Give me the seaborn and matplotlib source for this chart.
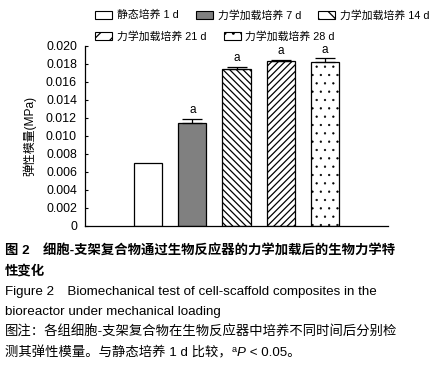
import matplotlib
matplotlib.use("Agg")
import matplotlib.pyplot as plt
import seaborn as sns
import pandas as pd
from matplotlib.patches import Patch

# --- Data ---
groups = ["静态培养 1 d", "力学加载培养 7 d", "力学加载培养 14 d",
          "力学加载培养 21 d", "力学加载培养 28 d"]
modulus = [0.00697, 0.01141, 0.01741, 0.01830, 0.01819]
errors = [0.0, 0.00051, 0.00026, 0.00018, 0.00044]
sig_marks = ["", "a", "a", "a", "a"]
y_ticks = [0, 0.002, 0.004, 0.006, 0.008, 0.010, 0.012, 0.014, 0.016, 0.018, 0.020]

# --- Style ---
face_colors = ["white", "#808080", "white", "white", "white"]
hatches = [None, None, "\\" * 5, "/" * 5, ".."]
hatch_lw = [0.9, 0.9, 0.9, 0.9, 0.4]

sns.set_theme(style="white")
plt.rcParams["font.family"] = ["Liberation Sans", "Noto Sans CJK SC", "DejaVu Sans"]
plt.rcParams["hatch.linewidth"] = 0.9
for key in ["text.color", "axes.labelcolor", "xtick.color", "ytick.color"]:
    plt.rcParams[key] = "black"

fig = plt.figure(figsize=(4.35, 3.67), dpi=100)
ax = fig.add_axes([0.1954, 0.3842, 0.6966, 0.4905])

df = pd.DataFrame({"group": groups, "modulus": modulus})
sns.barplot(data=df, x="group", y="modulus", ax=ax, width=0.636,
            edgecolor="black", linewidth=0.9, errorbar=None)

for bar, fc, h, hl in zip(ax.patches, face_colors, hatches, hatch_lw):
    bar.set_facecolor(fc)
    bar.set_edgecolor("black")
    if h:
        bar.set_hatch(h)
        if hasattr(bar, "set_hatch_linewidth"):
            bar.set_hatch_linewidth(hl)

# error bars (upper only) and significance letters
for i, (v, e, s) in enumerate(zip(modulus, errors, sig_marks)):
    if e > 0:
        ax.errorbar(i, v, yerr=[[0], [e]], fmt="none", ecolor="black",
                    elinewidth=0.9, capsize=7.3, capthick=0.9)
    if s:
        ax.text(i, v + e + 0.0003, s, ha="center", va="bottom", fontsize=8.5)

ax.set_xlim(-1.43, 5.43)
ax.set_ylim(0, 0.020)
ax.set_yticks(y_ticks)
ax.set_yticklabels(["0"] + [f"{t:.3f}" for t in y_ticks[1:]], fontsize=8.9)
ax.set_xticks([])
ax.set_xlabel("")
ax.set_ylabel("弹性模量(MPa)", fontsize=8.6)
ax.yaxis.set_label_coords(-0.162, 0.5)
ax.tick_params(axis="y", direction="in", length=2.5, width=0.8, left=True, pad=5.8)
for side in ["top", "right"]:
    ax.spines[side].set_visible(False)
for side in ["left", "bottom"]:
    ax.spines[side].set_color("black")
    ax.spines[side].set_linewidth(0.9)

# legend, two rows
handles = [Patch(facecolor=fc, edgecolor="black", hatch=(h[:2] if h else None), linewidth=0.8)
           for fc, h in zip(face_colors, hatches)]
leg_kw = dict(loc="center left", frameon=False, fontsize=7.8, handlelength=1.57,
              handleheight=0.74, handletextpad=0.46, columnspacing=1.57,
              borderaxespad=0, borderpad=0)
fig.legend(handles[:3], groups[:3], bbox_to_anchor=(95 / 435, 1 - 15 / 367),
           ncol=3, **leg_kw)
fig.legend(handles[3:], groups[3:], bbox_to_anchor=(95 / 435, 1 - 36 / 367),
           ncol=2, **leg_kw)

# caption
cap = dict(fontsize=9.6, ha="left", va="baseline")
x0 = 5 / 435
def ypos(py):
    return 1 - py / 367
fig.text(x0, ypos(255), "图 2　细胞-支架复合物通过生物反应器的力学加载后的生物力学特",
         fontweight="bold", **cap)
fig.text(x0, ypos(275), "性变化", fontweight="bold", **cap)
fig.text(x0, ypos(295), "Figure 2　Biomechanical test of cell-scaffold composites in the", **cap)
fig.text(x0, ypos(315), "bioreactor under mechanical loading", **cap)
fig.text(x0, ypos(336), "图注：各组细胞-支架复合物在生物反应器中培养不同时间后分别检", **cap)

# last caption line, built piece by piece (superscript a, italic P)
r = fig.canvas.get_renderer()
W = fig.bbox.width
t = fig.text(x0, ypos(356), "测其弹性模量。与静态培养 1 d 比较，", **cap)
xe = t.get_window_extent(r).x1 / W
t = fig.text(xe, ypos(351.5), "a", fontsize=6.5, ha="left", va="baseline")
xe = t.get_window_extent(r).x1 / W
t = fig.text(xe, ypos(356), "P", fontstyle="italic", **cap)
xe = t.get_window_extent(r).x1 / W
fig.text(xe, ypos(356), " < 0.05。", **cap)

fig.savefig("out.png", dpi=100)
